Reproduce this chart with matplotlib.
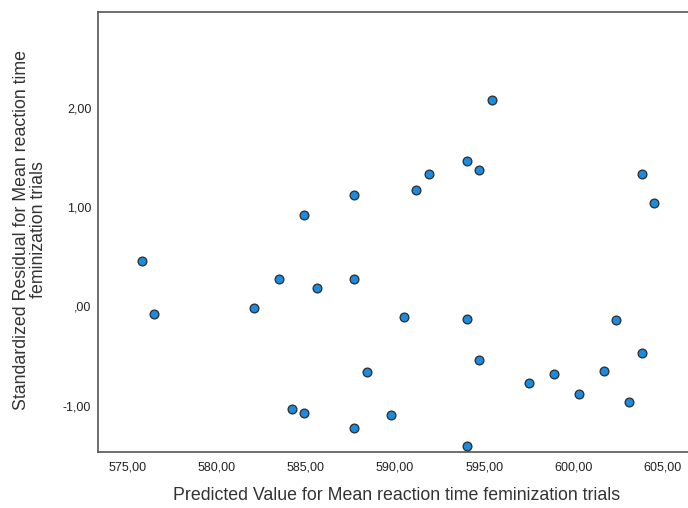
import matplotlib
matplotlib.use("Agg")
import matplotlib.pyplot as plt

# Data
predicted = [575.81, 576.50, 582.11, 583.50, 585.61, 587.70, 588.41, 584.21, 584.90, 587.70,
             589.77, 590.50, 594.01, 594.70, 597.52, 598.90, 600.31, 601.72, 602.39, 603.11,
             603.82, 594.01, 584.90, 587.70, 595.41, 594.01, 594.70, 591.92, 591.17, 603.82,
             604.51]
std_resid = [0.46, -0.075, -0.02, 0.28, 0.19, 0.28, -0.66, -1.03, -1.07, -1.22,
             -1.09, -0.11, -0.13, -0.535, -0.77, -0.68, -0.88, -0.645, -0.136, -0.96,
             -0.47, -1.40, 0.92, 1.12, 2.08, 1.46, 1.37, 1.33, 1.17, 1.33,
             1.04]

xticks = [575, 580, 585, 590, 595, 600, 605]
xtick_labels = ["575,00", "580,00", "585,00", "590,00", "595,00", "600,00", "605,00"]
yticks = [-1, 0, 1, 2]
ytick_labels = ["-1,00", ",00", "1,00", "2,00"]

x_label = "Predicted Value for Mean reaction time feminization trials"
y_label = "Standardized Residual for Mean reaction time\nfeminization trials"

plt.rcParams['font.family'] = ['Liberation Sans', 'DejaVu Sans']

W, H = 688, 508
fig = plt.figure(figsize=(W / 100, H / 100), dpi=100)
left, right, top, bottom = 98.3, 688, 11.7, 451.7
ax = fig.add_axes([left / W, 1 - bottom / H, (right - left) / W, (bottom - top) / H])

ax.scatter(predicted, std_resid, s=40, facecolor="#1a8be0", edgecolor="#2b2b2b",
           linewidths=0.9, zorder=3)

ax.set_xlim(573.38, 575 + (688 - 127.3) / 17.85)
ax.set_ylim(-1.461, 2.966)

ax.set_xticks(xticks)
ax.set_xticklabels(xtick_labels)
ax.set_yticks(yticks)
ax.set_yticklabels(ytick_labels)
ax.tick_params(axis="both", length=0, labelsize=9, colors="#222222")
ax.tick_params(axis="x", pad=7)
ax.tick_params(axis="y", pad=5)

for side in ["left", "bottom", "top"]:
    ax.spines[side].set_color("#555555")
    ax.spines[side].set_linewidth(1.2)
ax.spines["right"].set_visible(False)

fig.text(397 / W, 1 - 496 / H, x_label, ha="center", va="center", fontsize=12.8, color="#333333")
fig.text(30 / W, 1 - 230 / H, y_label, ha="center", va="center", rotation=90,
         multialignment="center", fontsize=12.8, color="#333333", linespacing=0.95)

fig.savefig("out.png", dpi=100, facecolor="white")
